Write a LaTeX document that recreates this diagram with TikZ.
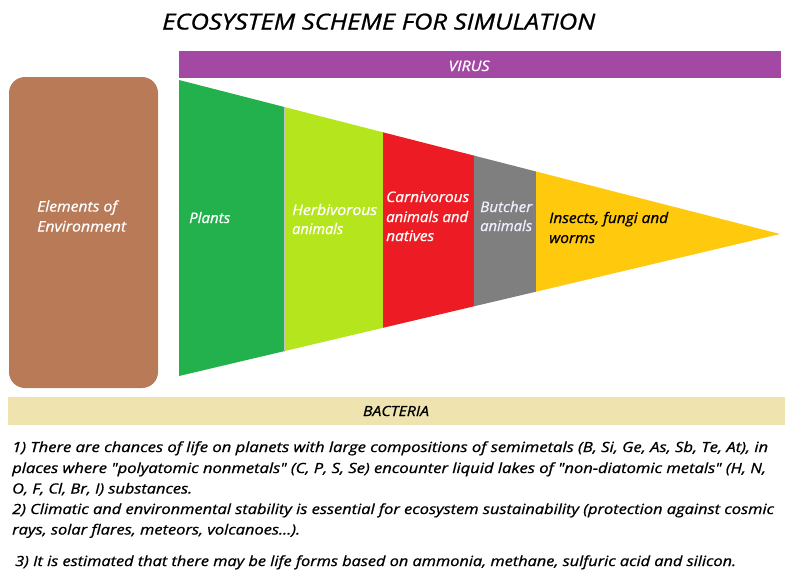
\documentclass[tikz,border=0pt]{standalone}
\usepackage{fontspec}
\setmainfont{Open Sans}[Ligatures=TeXOff, FakeBold=0.8]
\definecolor{cvirus}{HTML}{A349A4}
\definecolor{cbrown}{HTML}{B97A57}
\definecolor{cgreen}{HTML}{22B14C}
\definecolor{clime}{HTML}{B5E61D}
\definecolor{cred}{HTML}{ED1C24}
\definecolor{cgray}{HTML}{7F7F7F}
\definecolor{cgold}{HTML}{FFC90E}
\definecolor{cbact}{HTML}{EFE4B0}
\definecolor{clav}{HTML}{EEEEFF}
\definecolor{csep}{HTML}{C3C3C3}
\newsavebox\fitbox
\newlength\fitlen
\newcommand\fitw[2]{\sbox\fitbox{#2}\fitlen=\wd\fitbox\pgfmathsetmacro\fitfac{#1/\fitlen}\scalebox{\fitfac}[1]{\usebox\fitbox}}
\tikzset{
  txt/.style={anchor=base west, inner sep=0pt, font=\fontsize{14.5}{17}\selectfont\itshape},
  wtxt/.style={txt, text=white},
  body/.style={anchor=base west, inner sep=0pt, font=\fontsize{14}{17}\selectfont\itshape, text=black},
}
\begin{document}
\begin{tikzpicture}[x=1pt,y=-1pt]
\useasboundingbox[fill=white] (0,0) rectangle (793,582);
% title
\node[anchor=base west, inner sep=0pt, font=\fontsize{22}{26}\selectfont\itshape] (title) at (162,29.5) {\fitw{433}{ECOSYSTEM SCHEME FOR SIMULATION}};
% virus bar
\fill[cvirus] (179,51) rectangle (781,78);
\node[anchor=base, inner sep=0pt, font=\fontsize{14.5}{17}\selectfont\itshape, text=white] (virus) at (469,71) {\fitw{41}{VIRUS}};
% environment box
\fill[cbrown, rounded corners=16pt] (9,77) rectangle (158,388);
\node[wtxt] (env1) at (37,211.5) {\fitw{80}{Elements of}};
\node[wtxt] (env2) at (37,231.5) {\fitw{89}{Environment}};
% funnel
\fill[cgreen] (179,80) -- (284,106.9) -- (284,351.2) -- (179,376) -- cycle;
\fill[clime] (284,106.9) -- (383,132.3) -- (383,327.8) -- (284,351.2) -- cycle;
\fill[cred] (383,132.3) -- (474,155.6) -- (474,306.3) -- (383,327.8) -- cycle;
\fill[cgray] (474,155.6) -- (536,171.5) -- (536,291.7) -- (474,306.3) -- cycle;
\fill[cgold] (536,171.5) -- (780,234) -- (536,291.7) -- cycle;
\draw[csep, line width=0.8pt] (284,107.5) -- (284,352);
\node[wtxt] (plants) at (189,223) {\fitw{41}{Plants}};
\node[wtxt] (herb1) at (292,215) {\fitw{85}{Herbivorous}};
\node[wtxt] (herb2) at (292,234) {\fitw{51}{animals}};
\node[wtxt] (carn1) at (386,202) {\fitw{83}{Carnivorous}};
\node[wtxt] (carn2) at (386,222) {\fitw{82}{animals and}};
\node[wtxt] (carn3) at (386,241) {\fitw{48}{natives}};
\node[txt, text=clav] (butch1) at (480,212) {\fitw{52}{Butcher}};
\node[txt, text=clav] (butch2) at (480,231) {\fitw{52}{animals}};
\node[txt, text=black] (ins1) at (549,223) {\fitw{119}{Insects, fungi and}};
\node[txt, text=black] (ins2) at (549,243) {\fitw{46}{worms}};
% bacteria bar
\fill[cbact] (8,397) rectangle (785,425);
\node[anchor=base, inner sep=0pt, font=\fontsize{14}{17}\selectfont\itshape] (bact) at (396,416) {\fitw{66}{BACTERIA}};
% notes
\node[body] (n1) at (12,452) {\fitw{756}{1) There are chances of life on planets with large compositions of semimetals (B, Si, Ge, As, Sb, Te, At), in}};
\node[body] (n2) at (12,473) {\fitw{754}{places where "polyatomic nonmetals" (C, P, S, Se) encounter liquid lakes of "non-diatomic metals" (H, N,}};
\node[body] (n3) at (12,493.5) {\fitw{180}{O, F, Cl, Br, I) substances.}};
\node[body] (n4) at (12,514) {\fitw{762}{2) Climatic and environmental stability is essential for ecosystem sustainability (protection against cosmic}};
\node[body] (n5) at (12,534.5) {\fitw{288}{rays, solar flares, meteors, volcanoes...).}};
\node[body] (n6) at (15,566) {\fitw{721}{3) It is estimated that there may be life forms based on ammonia, methane, sulfuric acid and silicon.}};
\end{tikzpicture}
\end{document}
